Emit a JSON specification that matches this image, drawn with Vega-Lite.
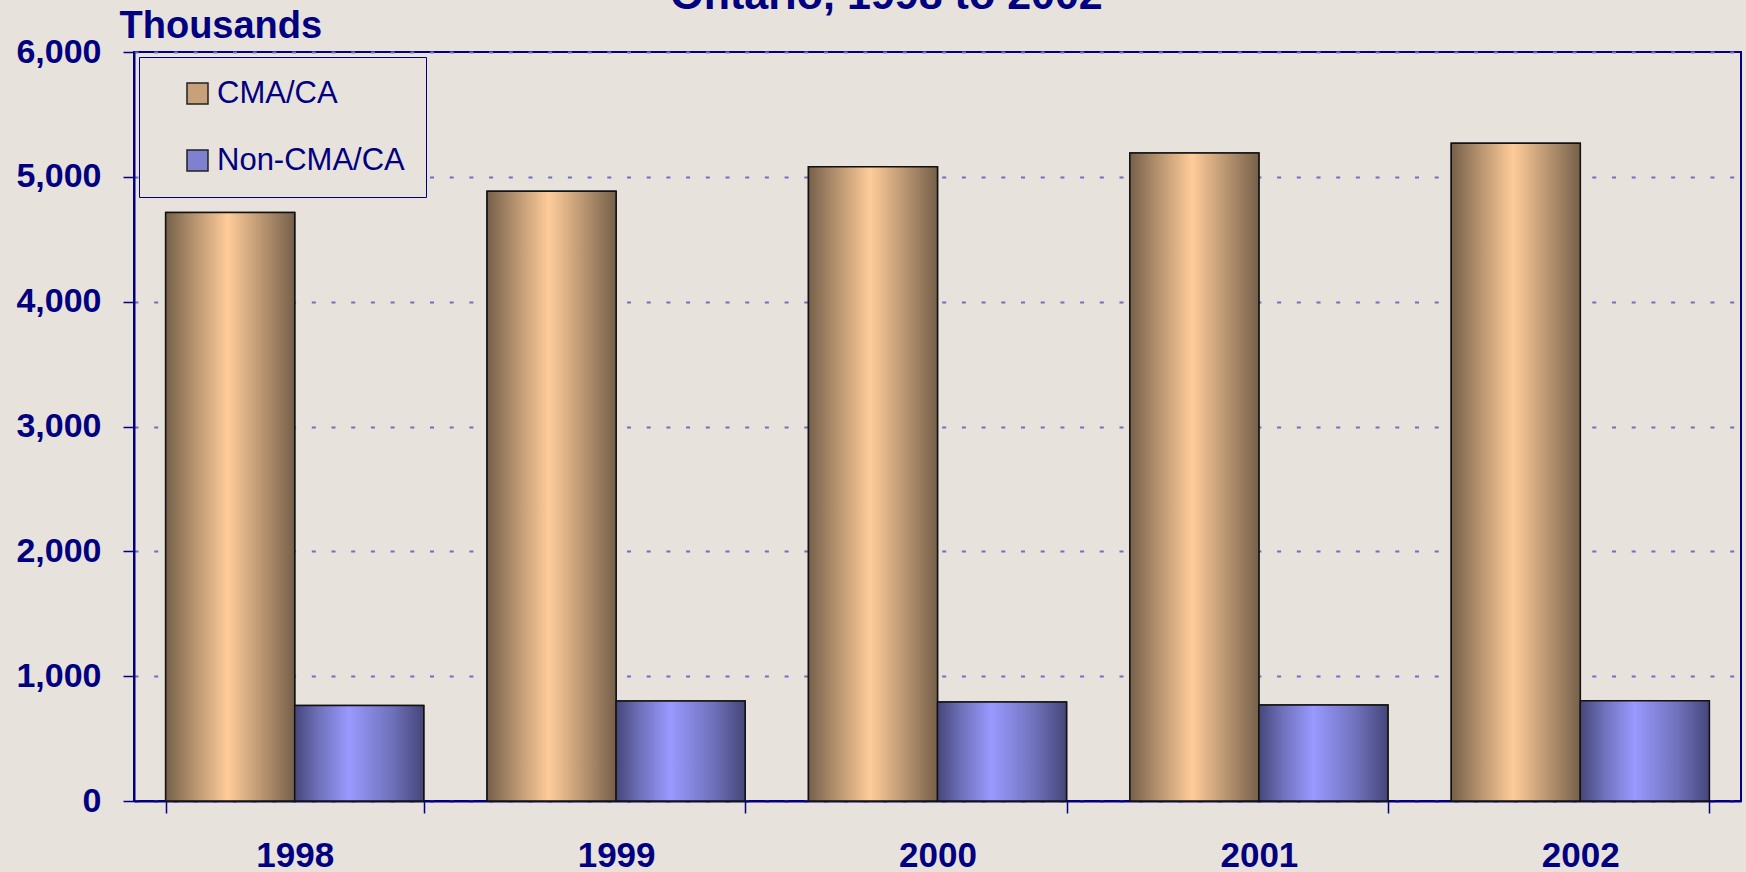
{
  "$schema": "https://vega.github.io/schema/vega-lite/v6.json",
  "width": 1607,
  "height": 749,
  "autosize": {"type": "none"},
  "padding": {"left": 134, "top": 52, "right": 5, "bottom": 71},
  "background": "#E8E2DC",
  "title": {
    "text": "Ontario, 1998 to 2002",
    "fontSize": 43,
    "fontWeight": "bold",
    "font": "Liberation Sans",
    "color": "#000080",
    "anchor": "middle",
    "frame": "group",
    "baseline": "alphabetic",
    "dx": -51,
    "dy": 12,
    "offset": -33
  },
  "data": {
    "values": [
      {"year": "1998", "type": "CMA/CA", "value": 4715},
      {"year": "1998", "type": "Non-CMA/CA", "value": 766},
      {"year": "1999", "type": "CMA/CA", "value": 4885},
      {"year": "1999", "type": "Non-CMA/CA", "value": 802},
      {"year": "2000", "type": "CMA/CA", "value": 5080},
      {"year": "2000", "type": "Non-CMA/CA", "value": 794},
      {"year": "2001", "type": "CMA/CA", "value": 5190},
      {"year": "2001", "type": "Non-CMA/CA", "value": 769},
      {"year": "2002", "type": "CMA/CA", "value": 5270},
      {"year": "2002", "type": "Non-CMA/CA", "value": 804}
    ]
  },
  "encoding": {
    "x": {
      "field": "year",
      "type": "nominal",
      "scale": {"paddingInner": 0.197, "paddingOuter": 0.0985},
      "axis": {
        "title": null,
        "labelAngle": 0,
        "labelFont": "Liberation Sans",
        "labelFontSize": 35,
        "labelFontWeight": "bold",
        "labelColor": "#000080",
        "labelPadding": 25,
        "tickBand": "extent",
        "tickSize": 12,
        "tickColor": "#000080",
        "tickWidth": 1.5,
        "domainColor": "#000080",
        "domainWidth": 2
      }
    },
    "xOffset": {"field": "type", "type": "nominal", "sort": ["CMA/CA", "Non-CMA/CA"]},
    "y": {
      "field": "value",
      "type": "quantitative",
      "scale": {"domain": [0, 6000], "nice": false},
      "axis": {
        "values": [0, 1000, 2000, 3000, 4000, 5000, 6000],
        "format": ",d",
        "title": "Thousands",
        "titleAngle": 0,
        "titleAlign": "left",
        "titleBaseline": "alphabetic",
        "titleX": -15,
        "titleY": -15,
        "titleFont": "Liberation Sans",
        "titleFontSize": 38,
        "titleFontWeight": "bold",
        "titleColor": "#000080",
        "labelFont": "Liberation Sans",
        "labelFontSize": 34,
        "labelFontWeight": "bold",
        "labelColor": "#000080",
        "labelPadding": 22,
        "tickSize": 11,
        "tickColor": "#000080",
        "tickWidth": 1.5,
        "domainColor": "#000080",
        "domainWidth": 2,
        "grid": true,
        "gridColor": "#6F6FC4",
        "gridWidth": 2,
        "gridDash": [4, 15.7]
      }
    }
  },
  "layer": [
    {
      "mark": {"type": "bar", "stroke": "#222222", "strokeWidth": 1.5},
      "encoding": {
        "fill": {
          "field": "type",
          "type": "nominal",
          "sort": ["CMA/CA", "Non-CMA/CA"],
          "scale": {"domain": ["CMA/CA", "Non-CMA/CA"], "range": ["#C8A07A", "#7F80D0"]},
          "legend": {
            "title": null,
            "orient": "none",
            "legendX": 5,
            "legendY": 5,
            "padding": 21,
            "symbolOffset": 22,
            "strokeColor": "#000080",
            "fillColor": "#E8E2DC",
            "symbolType": "square",
            "symbolSize": 441,
            "symbolStrokeColor": "#222222",
            "symbolStrokeWidth": 1.5,
            "labelFont": "Liberation Sans",
            "labelFontSize": 31,
            "labelColor": "#000080",
            "labelOffset": 4,
            "labelLimit": 400,
            "rowPadding": 35
          }
        }
      }
    },
    {
      "mark": {"type": "bar", "stroke": "#111111", "strokeWidth": 1.5},
      "encoding": {
        "fill": {
          "condition": {
            "test": "datum.type === 'CMA/CA'",
            "value": {"gradient": "linear", "x1": 0, "y1": 0, "x2": 1, "y2": 0,
              "stops": [
                {"offset": 0, "color": "#76604A"},
                {"offset": 0.2, "color": "#B08E6C"},
                {"offset": 0.48, "color": "#FFCC99"},
                {"offset": 0.78, "color": "#B08E6C"},
                {"offset": 1, "color": "#76604A"}
              ]}
          },
          "value": {"gradient": "linear", "x1": 0, "y1": 0, "x2": 1, "y2": 0,
            "stops": [
              {"offset": 0, "color": "#45467A"},
              {"offset": 0.18, "color": "#6E70B8"},
              {"offset": 0.42, "color": "#9999FF"},
              {"offset": 0.75, "color": "#7072BC"},
              {"offset": 1, "color": "#45467A"}
            ]}
        }
      }
    }
  ],
  "config": {
    "view": {"stroke": "#000080", "strokeWidth": 2},
    "axis": {"labelOverlap": false}
  }
}
